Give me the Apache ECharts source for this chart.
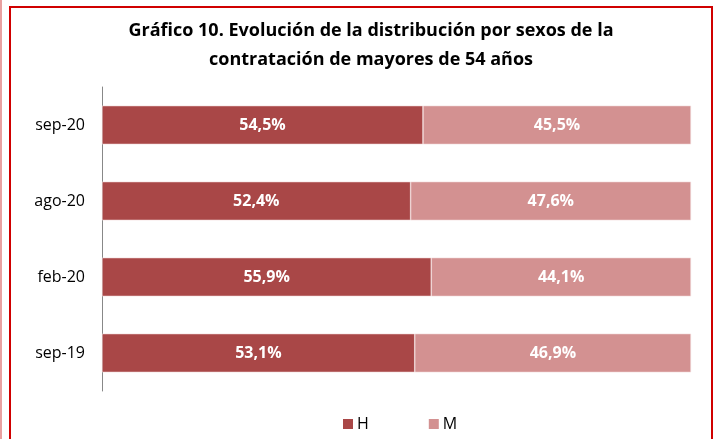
<!DOCTYPE html>
<html>
<head>
<meta charset="utf-8">
<script src="https://cdn.jsdelivr.net/npm/echarts@6/dist/echarts.min.js"></script>
<style>
  html, body { margin: 0; padding: 0; background: #fff; }
  #wrap { position: relative; width: 716px; height: 439px; overflow: hidden; }
  #edge { position: absolute; left: 0; top: 0; width: 2px; height: 439px; background: #e9a0a0; }
  #frame { position: absolute; left: 9px; top: 6px; width: 700px; height: 440px; border: 2px solid #d00000; border-bottom: none; }
  #chart { position: absolute; left: 0; top: 0; width: 716px; height: 439px; }
</style>
</head>
<body>
<div id="wrap">
  <div id="edge"></div>
  <div id="frame"></div>
  <div id="chart"></div>
</div>
<script>
const categories = ['sep-19', 'feb-20', 'ago-20', 'sep-20']
const hombres = [53.1, 55.9, 52.4, 54.5]
const mujeres = [46.9, 44.1, 47.6, 45.5]

const fontFamily = '"Open Sans", "Noto Sans", sans-serif'
const fmt = p => p.value.toFixed(1).replace('.', ',') + '%'

const chart = echarts.init(document.getElementById('chart'), null, { renderer: 'canvas' })

const barLabel = {
  show: true,
  position: 'inside',
  formatter: fmt,
  color: '#fff',
  fontWeight: 'bold',
  fontSize: 16,
  fontFamily,
}

chart.setOption({
  animation: false,
  title: {
    text: 'Gráfico 10. Evolución de la distribución por sexos de la\ncontratación de mayores de 54 años',
    left: 366,
    textAlign: 'center',
    top: 11,
    textStyle: { fontSize: 18, fontWeight: 'bold', lineHeight: 29, color: '#000', fontFamily },
  },
  legend: {
    top: 411,
    left: 338,
    itemWidth: 10,
    itemHeight: 10,
    itemGap: 60,
    icon: 'rect',
    itemStyle: { borderWidth: 0 },
    textStyle: { fontSize: 16, color: '#000', fontFamily, padding: [0, 0, 0, -1] },
    data: ['H', 'M'],
  },
  grid: { left: 102, right: 25, top: 87, height: 304 },
  xAxis: {
    type: 'value',
    min: 0,
    max: 100,
    show: false,
  },
  yAxis: {
    type: 'category',
    data: categories,
    axisLine: { show: true, lineStyle: { color: '#888', width: 1 } },
    axisTick: { show: false },
    axisLabel: { fontSize: 16, color: '#000', margin: 17, fontFamily },
  },
  series: [
    {
      name: 'H',
      type: 'bar',
      stack: 'total',
      barWidth: '51%',
      data: hombres,
      itemStyle: { color: '#a94747', borderColor: '#f3dede', borderWidth: 0.6 },
      label: barLabel,
    },
    {
      name: 'M',
      type: 'bar',
      stack: 'total',
      data: mujeres,
      itemStyle: { color: '#d39191', borderColor: '#f3dede', borderWidth: 0.6 },
      label: barLabel,
    },
  ],
})
</script>
</body>
</html>
